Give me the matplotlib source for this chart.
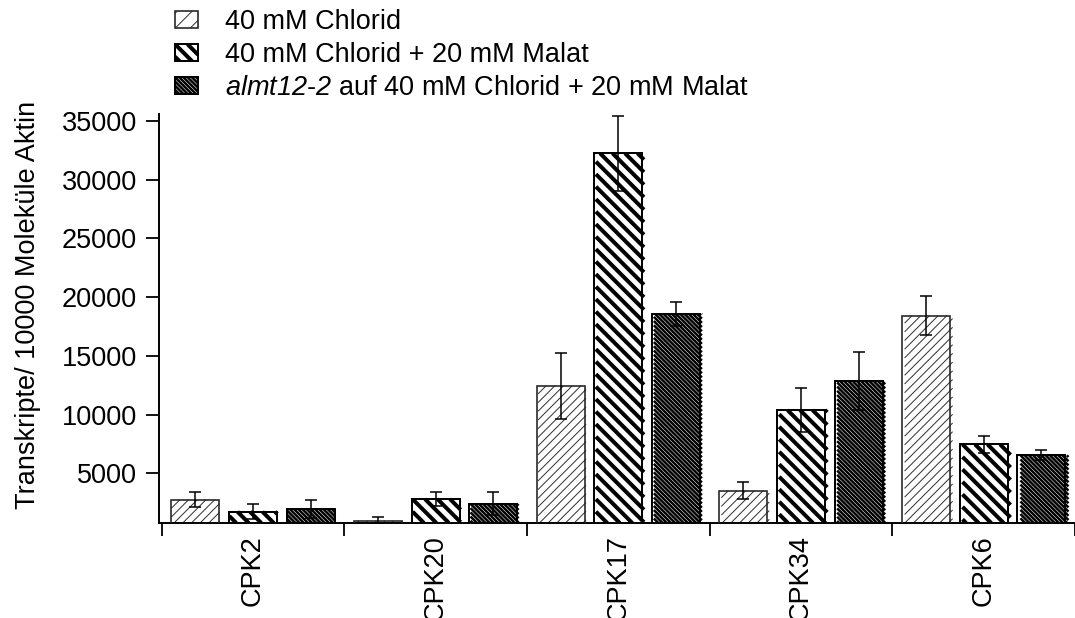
import numpy as np
import matplotlib
matplotlib.use("Agg")
import matplotlib.pyplot as plt
from matplotlib.collections import LineCollection
from matplotlib.patches import Rectangle
from matplotlib.legend_handler import HandlerBase
from matplotlib.transforms import IdentityTransform

plt.rcParams["font.family"] = ["Liberation Sans", "DejaVu Sans"]
# math text is only used for the italic mutant name, so every glyph there is italic
plt.rcParams["mathtext.fontset"] = "custom"
plt.rcParams["mathtext.rm"] = "Liberation Sans:italic"
plt.rcParams["mathtext.it"] = "Liberation Sans:italic"

# ---- data ----
genes = ["CPK2", "CPK20", "CPK17", "CPK34", "CPK6"]
series_labels = [
    "40 mM Chlorid",
    "40 mM Chlorid + 20 mM Malat",
    r"$almt12$-$2$ auf 40 mM Chlorid + 20 mM Malat",
]
chlorid = [2750, 960, 12460, 3520, 18430]
chlorid_err = [620, 290, 2810, 740, 1640]
malat = [1730, 2810, 32260, 10390, 7470]
malat_err = [630, 570, 3210, 1890, 700]
almt = [1960, 2410, 18570, 12860, 6530]
almt_err = [770, 970, 1050, 2460, 420]
yticks = [5000, 10000, 15000, 20000, 25000, 30000, 35000]

# ---- hatch styles (pixel units at 100 dpi) ----
styles = [
    dict(direction=1, spacing=8.7, legend_spacing=15.0, lw=1.0, color="#333333",
         edge_lw=1.6, edge_color="#222222"),
    dict(direction=-1, spacing=12.5, legend_spacing=12.5, lw=4.0, color="black",
         edge_lw=2.0, edge_color="black"),
    dict(direction=-1, spacing=4.2, legend_spacing=4.2, lw=2.5, color="black",
         edge_lw=2.0, edge_color="black"),
]
PT = 0.72  # points per pixel at 100 dpi
FS = 19.5


def diagonal_segments(x0, y0, x1, y1, spacing, direction):
    """Diagonal 45-degree segments filling the box, clipped to its edges."""
    h = y1 - y0
    start = np.floor((x0 - h) / spacing) * spacing
    segs = []
    for c in np.arange(start, x1 + spacing, spacing):
        t_lo = max(0.0, x0 - c)
        t_hi = min(h, x1 - c)
        if t_hi <= t_lo:
            continue
        if direction > 0:
            segs.append([(c + t_lo, y0 + t_lo), (c + t_hi, y0 + t_hi)])
        else:
            segs.append([(c + t_lo, y1 - t_lo), (c + t_hi, y1 - t_hi)])
    return segs


class HatchBoxHandler(HandlerBase):
    def __init__(self, style):
        super().__init__()
        self.style = style

    def create_artists(self, legend, orig_handle, xdescent, ydescent,
                       width, height, fontsize, trans):
        st = self.style
        x0, y0 = -xdescent, -ydescent
        face = Rectangle((x0, y0), width, height, facecolor="white",
                         edgecolor="none", transform=trans)
        segs = diagonal_segments(x0, y0, x0 + width, y0 + height,
                                 st["legend_spacing"] * PT, st["direction"])
        lc = LineCollection(segs, colors=st["color"], linewidths=st["lw"] * PT,
                            transform=trans)
        lc.set_clip_path(face)
        edge = Rectangle((x0, y0), width, height, facecolor="none",
                         edgecolor=st["edge_color"],
                         linewidth=st["edge_lw"] * PT, transform=trans)
        return [face, lc, edge]


fig = plt.figure(figsize=(10.75, 6.18), dpi=100)
ax = fig.add_axes([0.1482, 0.1537, 0.8518, 0.6618])

x = np.arange(len(genes))
offsets = [-0.316, 0.0, 0.316]
width = 0.262
values = [chlorid, malat, almt]
errors = [chlorid_err, malat_err, almt_err]

containers = []
for off, vals, errs, st in zip(offsets, values, errors, styles):
    bc = ax.bar(x + off, vals, width, facecolor="none",
                edgecolor=st["edge_color"], linewidth=st["edge_lw"] * PT,
                zorder=3)
    ax.errorbar(x + off, vals, yerr=errs, fmt="none", ecolor="black",
                elinewidth=1.1, capsize=4.3, capthick=1.1, zorder=4)
    containers.append(bc)

ax.set_xlim(-0.513, 4.4826)
ax.set_ylim(770, 35600)

# hatch fills, built in display space so every stripe runs at 45 degrees
axes_bb = ax.get_window_extent()
for bc, st in zip(containers, styles):
    for patch in bc.patches:
        bb = patch.get_window_extent()
        y0 = max(bb.y0, axes_bb.y0)
        segs = diagonal_segments(bb.x0, y0, bb.x1, bb.y1, st["spacing"],
                                 st["direction"])
        lc = LineCollection(segs, colors=st["color"],
                            linewidths=st["lw"] * PT,
                            transform=IdentityTransform(), zorder=2.5)
        lc.set_clip_path(patch)
        ax.add_collection(lc, autolim=False)

# axes styling
for side in ("top", "right"):
    ax.spines[side].set_visible(False)
for side in ("left", "bottom"):
    ax.spines[side].set_linewidth(1.4)

ax.set_yticks(yticks)
ax.set_yticklabels([str(v) for v in yticks])
ax.tick_params(axis="y", length=9.4, width=1.3, pad=6.8, labelsize=FS)

ax.set_xticks(x)
ax.set_xticklabels(genes, rotation=90)
ax.tick_params(axis="x", which="major", length=0, pad=8.6, labelsize=FS)
ax.set_xticks(np.arange(-0.5, len(genes)), minor=True)
ax.tick_params(axis="x", which="minor", length=9.4, width=1.3)

ax.set_ylabel("Transkripte/ 10000 Moleküle Aktin", fontsize=FS)
ax.yaxis.label.set_va("center")
ax.yaxis.set_label_coords(-0.1434, 0.533)

fig.legend(handles=containers, labels=series_labels,
           handler_map={c: HatchBoxHandler(st) for c, st in zip(containers, styles)},
           loc="upper left", bbox_to_anchor=(0.1628, 0.985), frameon=False,
           fontsize=FS, handlelength=0.85, handleheight=0.6,
           handletextpad=1.0, labelspacing=0.26, borderpad=0, borderaxespad=0)

fig.savefig("out.png", dpi=100)
